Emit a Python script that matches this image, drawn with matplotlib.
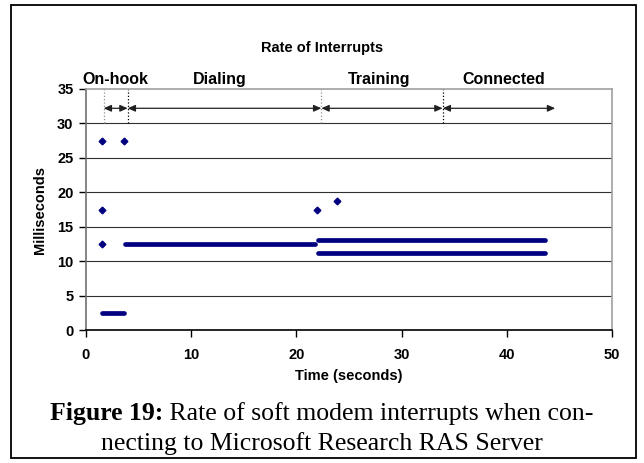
import matplotlib
matplotlib.use("Agg")
import matplotlib.pyplot as plt
from matplotlib.patches import Rectangle

# isolated interrupt intervals (time in s, interval in ms)
outlier_t = [1.55, 3.64, 1.5, 1.5, 22.0, 23.9]
outlier_ms = [27.5, 27.5, 17.5, 12.5, 17.5, 18.75]

# dense runs of interrupts that show up as solid bands
band_start = [1.52, 3.68, 22.05, 22.05]
band_end = [3.58, 21.75, 43.6, 43.6]
band_ms = [2.5, 12.5, 13.125, 11.25]

# phases of the modem connection
phase_names = ["On-hook", "Dialing", "Training", "Connected"]
phase_bounds = [1.68, 3.96, 22.37, 33.9, 44.6]
phase_label_x = [2.8, 12.7, 27.9, 39.7]

x_ticks = [0, 10, 20, 30, 40, 50]
y_ticks = [0, 5, 10, 15, 20, 25, 30, 35]

navy = "#000080"
sans = "Liberation Sans"
serif = "Liberation Serif"

W, H = 644, 463
fig = plt.figure(figsize=(W / 100, H / 100), dpi=100)
ax = fig.add_axes([86 / W, 1 - 330 / H, (612 - 86) / W, (330 - 89) / H])

# outer frame around chart and caption
fig.patches.append(Rectangle((11 / W, 5 / H), (636 - 11) / W, (458 - 5) / H,
                             transform=fig.transFigure, fill=False,
                             edgecolor="black", linewidth=1.3))

for y in y_ticks[1:-1]:
    ax.axhline(y, color="#303030", linewidth=0.8, zorder=1)

for s, e, v in zip(band_start, band_end, band_ms):
    ax.plot([s, e], [v, v], color=navy, linewidth=3.4,
            solid_capstyle="round", zorder=3)
ax.plot(outlier_t, outlier_ms, linestyle="none", marker="D",
        markersize=3.4, color=navy, zorder=3)

# phase separators and arrows
arrow_y = 32.2
for i, b in enumerate(phase_bounds[:-1]):
    col = "#909090" if i in (0, 2) else "black"
    ax.plot([b, b], [30, 35], color=col, linestyle=":", linewidth=0.9,
            zorder=2, clip_on=False)
for i in range(len(phase_names)):
    ax.annotate("", xy=(phase_bounds[i + 1], arrow_y),
                xytext=(phase_bounds[i], arrow_y),
                arrowprops=dict(arrowstyle="<|-|>,head_length=0.45,head_width=0.2",
                                color="#202020", linewidth=0.9,
                                shrinkA=0, shrinkB=0), zorder=4)
    ax.text(phase_label_x[i], 35.75, phase_names[i], ha="center",
            va="baseline", fontsize=11.5, fontweight="bold", family=sans)

ax.set_xlim(0, 50)
ax.set_ylim(0, 35)
ax.set_xticks(x_ticks)
ax.set_yticks(y_ticks)
ax.tick_params(direction="out", length=5, width=1, labelsize=10.5, pad=4)
for lab in ax.get_xticklabels() + ax.get_yticklabels():
    lab.set_fontweight("bold")
    lab.set_family(sans)
ax.tick_params(axis="x", pad=8)

ax.spines["top"].set_color("#a0a0a0")
ax.spines["right"].set_color("#a0a0a0")
ax.spines["left"].set_color("#707070")
ax.spines["bottom"].set_color("black")
for sp in ax.spines.values():
    sp.set_linewidth(1.2)

ax.set_xlabel("Time (seconds)", fontsize=10.5, fontweight="bold", family=sans,
              labelpad=5)
ax.set_ylabel("Milliseconds", fontsize=10.5, fontweight="bold", family=sans,
              labelpad=7)

fig.text(322 / W, 1 - 48 / H, "Rate of Interrupts", ha="center", va="center",
         fontsize=10.5, fontweight="bold", family=sans)

# caption below the chart: bold lead-in, then regular text right after it
cap_size = 18.5
renderer = fig.canvas.get_renderer()
bold = fig.text(0, 0, "Figure 19:", fontsize=cap_size, fontweight="bold",
                family=serif)
rest = fig.text(0, 0, " Rate of soft modem interrupts when con-",
                fontsize=cap_size, family=serif)
wb = bold.get_window_extent(renderer).width
wr = rest.get_window_extent(renderer).width
x0 = 322 - (wb + wr) / 2
bold.set_position((x0 / W, 1 - 420 / H))
bold.set_va("baseline")
rest.set_position(((x0 + wb) / W, 1 - 420 / H))
rest.set_va("baseline")
fig.text(322 / W, 1 - 450 / H, "necting to Microsoft Research RAS Server",
         ha="center", va="baseline", fontsize=cap_size, family=serif)

fig.savefig("out.png", dpi=100)
